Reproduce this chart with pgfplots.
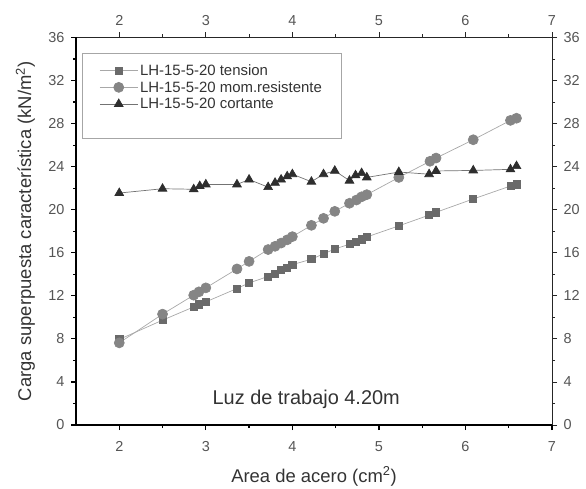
\documentclass[border=0pt]{standalone}
\usepackage{pgfplots}
\pgfplotsset{compat=1.18}
\usepackage{fontspec}
\setmainfont{Liberation Sans}
\definecolor{sqc}{HTML}{6A6A6A}
\definecolor{cic}{HTML}{858585}
\definecolor{trc}{HTML}{2E2E2E}
\definecolor{lnc}{HTML}{A8A8A8}
\definecolor{tlc}{HTML}{555555}
\definecolor{labc}{HTML}{333333}
\pgfplotsset{
  common/.style={
    scale only axis, width=476bp, height=387.5bp,
    at={(76bp,64bp)}, anchor=south west,
    xmin=1.5, xmax=7, ymin=0, ymax=36,
    xtick={2,3,4,5,6,7}, ytick={0,4,...,36},
    minor x tick num=1, minor y tick num=1,
    tick align=outside,
    major tick length=5bp, minor tick length=3bp,
    /pgf/number format/assume math mode=true,
    tick label style={font=\fontsize{14.5}{16}\selectfont, text=tlc},
    axis line style={-},
  }
}
\begin{document}
\begin{tikzpicture}
\useasboundingbox (0,0) rectangle (586bp,489bp);
\begin{axis}[common,
  axis x line*=top, axis y line*=right,
  axis line style={-, line width=0.8bp, draw=black!85},
  tick style={line width=0.8bp, draw=black!85},
  xticklabel style={yshift=3bp},
  yticklabel style={xshift=3bp},
]
\addplot[draw=none] coordinates {(2,0)};
\end{axis}
\begin{axis}[common,
  axis x line*=bottom, axis y line*=left,
  axis line style={-, line width=1.6bp, draw=black},
  tick style={line width=1.2bp, draw=black},
  xticklabel style={yshift=-8bp},
  yticklabel style={xshift=-3bp},
  xlabel={Area de acero (cm\textsuperscript{2})},
  ylabel={Carga superpuesta característica (kN/m\textsuperscript{2})},
  label style={font=\fontsize{18.5}{20}\selectfont, text=labc},
  xlabel style={at={([yshift=-57bp]axis description cs:0.5,0)}, anchor=base},
  ylabel style={at={([xshift=-45bp]axis description cs:0,0.5)}, anchor=base, rotate=0},
  legend style={at={(rel axis cs:0.0126,0.96)}, anchor=north west,
    draw=black!35, line width=0.8bp, fill=white,
    font=\fontsize{15}{17}\selectfont, text=labc,
    row sep=0.5bp, inner xsep=17bp, inner ysep=9bp},
  legend cell align=left,
  legend image code/.code={\draw[mark repeat=2,mark phase=2] plot coordinates {(0bp,0bp) (19bp,0bp) (38bp,0bp)};},
]
\addplot[lnc, line width=0.7bp, mark=square*, mark size=3.6bp, mark options={draw=sqc, fill=sqc, solid}] coordinates {
(2.0,7.95) (2.5,9.74) (2.86,10.97) (2.92,11.2) (3.0,11.44) (3.36,12.68) (3.50,13.2) (3.72,13.8) (3.80,14.07) (3.87,14.38) (3.94,14.63) (4.0,14.9) (4.22,15.4) (4.36,15.9) (4.49,16.35) (4.66,16.8) (4.73,17.0) (4.80,17.25) (4.86,17.47) (5.23,18.5) (5.58,19.5) (5.66,19.76) (6.09,21.0) (6.52,22.2) (6.59,22.35)};
\addlegendentry{LH-15-5-20 tension}
\addplot[lnc, line width=0.7bp, mark=*, mark size=5bp, mark options={draw=cic, fill=cic, solid}] coordinates {
(2.0,7.63) (2.5,10.3) (2.86,12.06) (2.92,12.37) (3.0,12.74) (3.36,14.5) (3.50,15.2) (3.72,16.3) (3.80,16.6) (3.87,16.9) (3.94,17.2) (4.0,17.5) (4.22,18.55) (4.36,19.2) (4.49,19.85) (4.66,20.6) (4.74,20.9) (4.80,21.2) (4.86,21.4) (5.23,23.0) (5.59,24.5) (5.66,24.8) (6.09,26.5) (6.52,28.3) (6.59,28.5)};
\addlegendentry{LH-15-5-20 mom.resistente}
\addplot[black!55, line width=0.7bp, mark=triangle*, mark size=5bp, mark options={draw=trc, fill=trc, solid}] coordinates {
(2.0,21.55) (2.5,21.95) (2.86,21.9) (2.93,22.2) (3.0,22.35) (3.36,22.35) (3.50,22.8) (3.72,22.1) (3.80,22.5) (3.87,22.8) (3.94,23.1) (4.0,23.3) (4.22,22.6) (4.36,23.3) (4.49,23.62) (4.66,22.7) (4.73,23.2) (4.80,23.4) (4.86,23.0) (5.23,23.5) (5.58,23.3) (5.66,23.6) (6.09,23.65) (6.52,23.75) (6.59,24.05)};
\addlegendentry{LH-15-5-20 cortante}
\addlegendimage{empty legend}
\addlegendentry{\rule{0pt}{11bp}}
\node[font=\fontsize{20}{22}\selectfont, text=labc, anchor=base] at (axis cs:4.16,1.95) {Luz de trabajo 4.20m};
\end{axis}
\end{tikzpicture}
\end{document}
